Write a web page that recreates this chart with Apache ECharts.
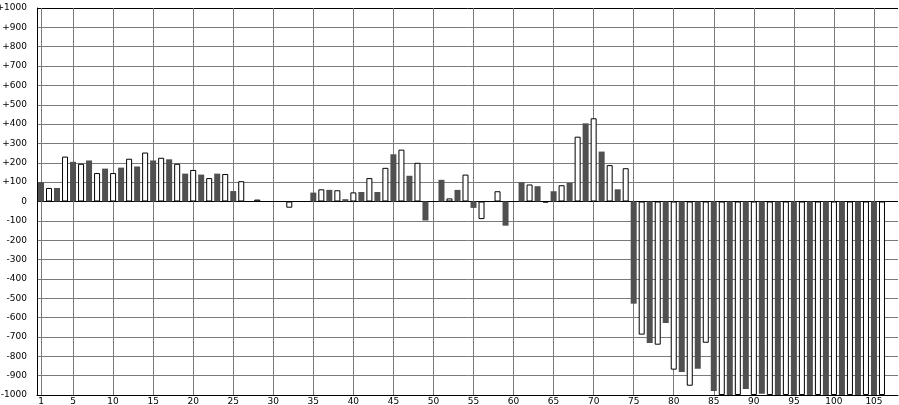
<!DOCTYPE html>
<html>
<head>
<meta charset="utf-8">
<script src="https://cdn.jsdelivr.net/npm/echarts@6/dist/echarts.min.js"></script>
<style>html,body{margin:0;padding:0;background:#fff}#c{width:899px;height:405px}</style>
</head>
<body>
<div id="c"></div>
<script>
// categories 1..106
const categories = [];
for (let i = 1; i <= 106; i++) categories.push(i);
const values = [
  100, 70, 70, 232, 205, 195, 212, 147, 170, 147,
  175, 221, 181, 253, 212, 226, 218, 195, 144, 163,
  139, 121, 144, 142, 54, 105, 0, 10, 0, 0,
  0, -32, 0, 0, 46, 63, 60, 58, 12, 47,
  49, 121, 49, 174, 244, 268, 133, 200, -98, 0,
  112, 16, 60, 139, -33, -91, 0, 53, -125, 0,
  100, 88, 79, -5, 53, 84, 96, 335, 404, 430,
  258, 188, 63, 172, -528, -688, -731, -740, -628, -869,
  -881, -952, -864, -730, -979, -1000, -1000, -1000, -969, -1000,
  -993, -1000, -1000, -1000, -1000, -1000, -1000, -1000, -1000, -1000,
  -1000, -1000, -1000, -1000, -1000, -1000
];
const xTickLabels = [1, 5, 10, 15, 20, 25, 30, 35, 40, 45, 50, 55, 60, 65, 70, 75, 80, 85, 90, 95, 100, 105];

const font = 'DejaVu Sans';
const data = categories.map((c, i) => ({
  value: [c, values[i]],
  itemStyle: (c % 2 === 1)
    ? { color: '#505050', borderWidth: 0 }
    : { color: '#ffffff', borderColor: '#000000', borderWidth: 1 }
}));

const splitColors = [];
for (let v = -1000; v <= 1000; v += 100) {
  splitColors.push((v === 0 || v === 1000) ? '#000000' : '#7a7a7a');
}

const chart = echarts.init(document.getElementById('c'), null, { renderer: 'canvas' });
chart.setOption({
  animation: false,
  backgroundColor: '#ffffff',
  grid: { left: 37, right: 1, top: 8, bottom: 10, containLabel: false, outerBoundsMode: 'none' },
  xAxis: {
    type: 'value',
    min: 0.5,
    max: 108,
    axisLine: { show: true, onZero: false, lineStyle: { color: '#000', width: 1 } },
    axisTick: { show: false, customValues: xTickLabels },
    axisLabel: {
      customValues: xTickLabels,
      fontFamily: font, fontSize: 9, color: '#000', margin: 2
    },
    splitLine: { show: true, lineStyle: { color: '#7a7a7a', width: 1 } }
  },
  yAxis: {
    type: 'value',
    min: -1000,
    max: 1000,
    interval: 100,
    axisLine: { show: true, lineStyle: { color: '#000', width: 1 } },
    axisTick: { show: false },
    axisLabel: {
      fontFamily: font, fontSize: 9, color: '#000', margin: 10,
      formatter: v => (v > 0 ? '+' + v : String(v))
    },
    splitLine: { show: true, lineStyle: { color: splitColors, width: 1 } }
  },
  series: [{
    type: 'bar',
    barWidth: 6,
    data: data
  }]
});
</script>
</body>
</html>
